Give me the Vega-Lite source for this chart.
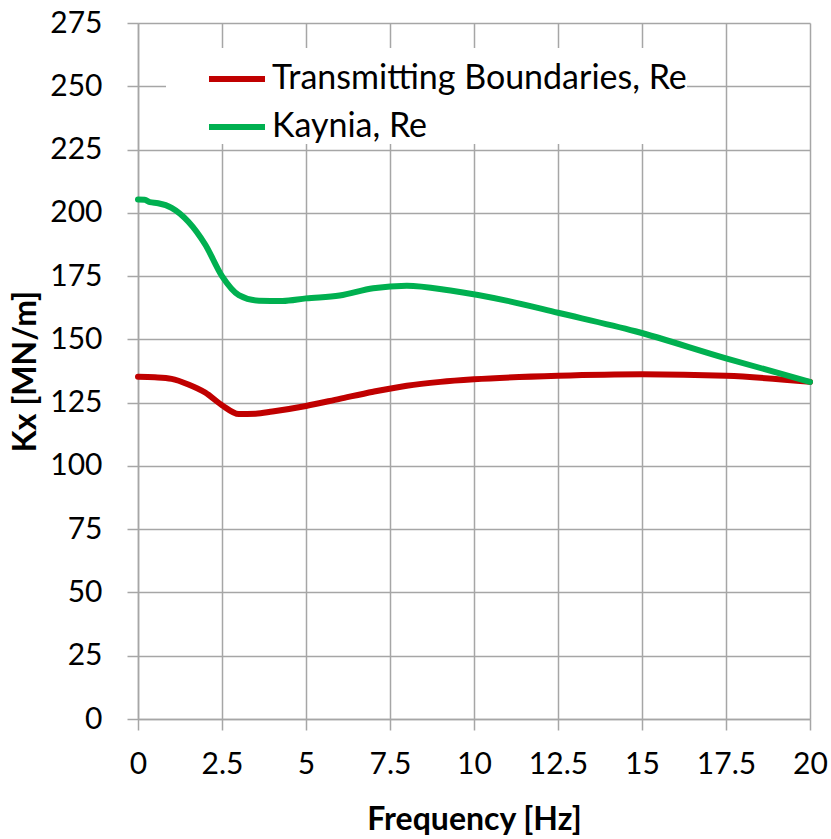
{
  "$schema": "https://vega.github.io/schema/vega-lite/v6.json",
  "width": 672,
  "height": 696,
  "autosize": {"type": "none"},
  "padding": {"left": 138, "top": 23, "right": 21, "bottom": 120},
  "background": "white",
  "config": {
    "view": {"stroke": null},
    "font": "Lato",
    "axis": {
      "gridColor": "#a6a6a6",
      "gridWidth": 1.5,
      "tickColor": "#a6a6a6",
      "tickWidth": 1.5,
      "tickSize": 11,
      "domainColor": "#a6a6a6",
      "domainWidth": 1.5,
      "labelFont": "Lato",
      "labelFontSize": 30,
      "labelColor": "black",
      "labelFlush": false,
      "labelOverlap": false,
      "titleFont": "Lato",
      "titleFontSize": 32,
      "titleFontWeight": "bold",
      "titleColor": "black"
    }
  },
  "data": {
    "values": [
      {"f": 0, "k": 135.2, "s": "Transmitting Boundaries, Re"},
      {"f": 0.5, "k": 135, "s": "Transmitting Boundaries, Re"},
      {"f": 1, "k": 134.4, "s": "Transmitting Boundaries, Re"},
      {"f": 1.5, "k": 132.2, "s": "Transmitting Boundaries, Re"},
      {"f": 2, "k": 129, "s": "Transmitting Boundaries, Re"},
      {"f": 2.5, "k": 124, "s": "Transmitting Boundaries, Re"},
      {"f": 3, "k": 120.5, "s": "Transmitting Boundaries, Re"},
      {"f": 3.5, "k": 120.6, "s": "Transmitting Boundaries, Re"},
      {"f": 4, "k": 121.5, "s": "Transmitting Boundaries, Re"},
      {"f": 5, "k": 123.7, "s": "Transmitting Boundaries, Re"},
      {"f": 6, "k": 126.5, "s": "Transmitting Boundaries, Re"},
      {"f": 7, "k": 129.3, "s": "Transmitting Boundaries, Re"},
      {"f": 8, "k": 131.7, "s": "Transmitting Boundaries, Re"},
      {"f": 9, "k": 133.2, "s": "Transmitting Boundaries, Re"},
      {"f": 10, "k": 134.2, "s": "Transmitting Boundaries, Re"},
      {"f": 12.5, "k": 135.6, "s": "Transmitting Boundaries, Re"},
      {"f": 15, "k": 136.2, "s": "Transmitting Boundaries, Re"},
      {"f": 17.5, "k": 135.6, "s": "Transmitting Boundaries, Re"},
      {"f": 20, "k": 133.2, "s": "Transmitting Boundaries, Re"},
      {"f": 0, "k": 205.3, "s": "Kaynia, Re"},
      {"f": 0.2, "k": 205.2, "s": "Kaynia, Re"},
      {"f": 0.35, "k": 204.2, "s": "Kaynia, Re"},
      {"f": 0.6, "k": 203.8, "s": "Kaynia, Re"},
      {"f": 1, "k": 202, "s": "Kaynia, Re"},
      {"f": 1.5, "k": 196.5, "s": "Kaynia, Re"},
      {"f": 2, "k": 187.5, "s": "Kaynia, Re"},
      {"f": 2.5, "k": 175, "s": "Kaynia, Re"},
      {"f": 3, "k": 167.5, "s": "Kaynia, Re"},
      {"f": 3.6, "k": 165.3, "s": "Kaynia, Re"},
      {"f": 4.3, "k": 165.2, "s": "Kaynia, Re"},
      {"f": 5, "k": 166.2, "s": "Kaynia, Re"},
      {"f": 6, "k": 167.3, "s": "Kaynia, Re"},
      {"f": 7, "k": 170.2, "s": "Kaynia, Re"},
      {"f": 8, "k": 171.2, "s": "Kaynia, Re"},
      {"f": 9.3, "k": 169.3, "s": "Kaynia, Re"},
      {"f": 11, "k": 165.2, "s": "Kaynia, Re"},
      {"f": 12.5, "k": 160.5, "s": "Kaynia, Re"},
      {"f": 14.8, "k": 153.2, "s": "Kaynia, Re"},
      {"f": 17.5, "k": 142.5, "s": "Kaynia, Re"},
      {"f": 20, "k": 133.2, "s": "Kaynia, Re"}
    ]
  },
  "mark": {"type": "line", "strokeWidth": 6, "interpolate": "monotone", "strokeCap": "round"},
  "encoding": {
    "x": {
      "field": "f", "type": "quantitative",
      "scale": {"domain": [0, 20], "nice": false},
      "axis": {
        "values": [0, 2.5, 5, 7.5, 10, 12.5, 15, 17.5, 20],
        "format": ".1~f",
        "title": "Frequency [Hz]",
        "labelPadding": 19,
        "titleBaseline": "alphabetic",
        "titleY": 110
      }
    },
    "y": {
      "field": "k", "type": "quantitative",
      "scale": {"domain": [0, 275], "nice": false},
      "axis": {
        "values": [0, 25, 50, 75, 100, 125, 150, 175, 200, 225, 250, 275],
        "title": "Kx [MN/m]",
        "labelPadding": 25,
        "titleX": -96,
        "titleY": 348
      }
    },
    "color": {
      "field": "s", "type": "nominal",
      "scale": {
        "domain": ["Transmitting Boundaries, Re", "Kaynia, Re"],
        "range": ["#c00000", "#00b050"]
      },
      "legend": {
        "title": null,
        "orient": "none",
        "legendX": 28,
        "legendY": 25,
        "padding": 0,
        "fillColor": "white",
        "symbolType": "stroke",
        "symbolSize": 3136,
        "symbolOffset": 40,
        "symbolStrokeWidth": 6,
        "labelFont": "Lato",
        "labelFontSize": 34,
        "labelColor": "black",
        "labelOffset": 4,
        "labelLimit": 600,
        "rowPadding": -5
      }
    }
  }
}
